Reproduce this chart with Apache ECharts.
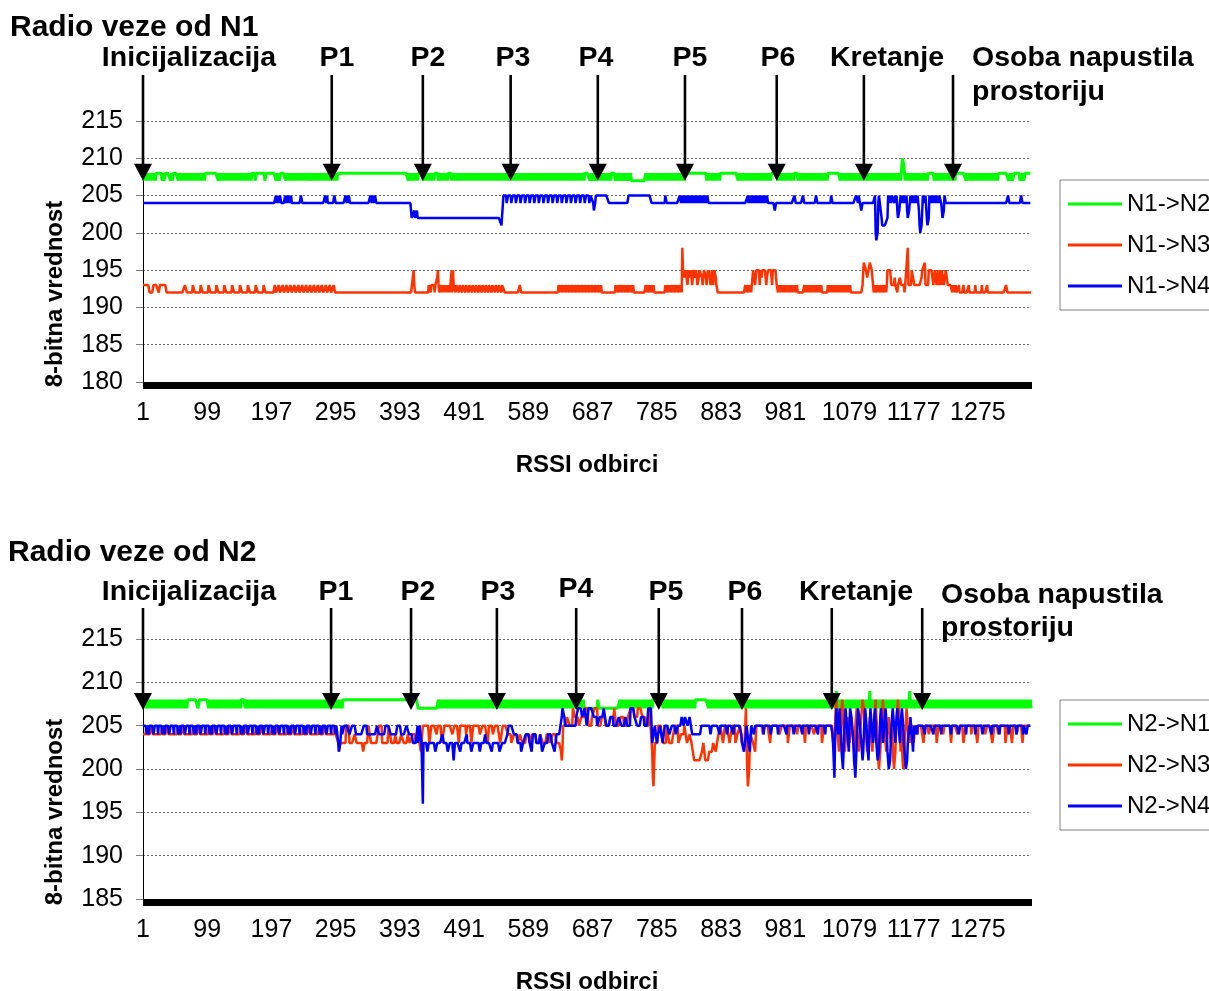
<!DOCTYPE html>
<html><head><meta charset="utf-8">
<script src="https://cdn.jsdelivr.net/npm/echarts@6/dist/echarts.min.js"></script>
<style>html,body{margin:0;padding:0;background:#fff}#c{width:1209px;height:991px}</style>
</head><body><div id="c"></div><script>
// Values are stored run-length encoded: each char c means value 180 + parseInt(c,36)
// (c=192, o=204, p=205, r=207, s=208 ...). "xy*n" repeats "xy" n times.
const N = 1356;
const categories = [];
for (let i = 1; i <= N; i++) categories.push(String(i));

const seriesNamesTop = ['N1->N2', 'N1->N3', 'N1->N4'];
const seriesNamesBottom = ['N2->N1', 'N2->N3', 'N2->N4'];

const n1n2 = "sr*10 s s*7 srrsrrs s*6 srrsrs s*6 sr*21 s s*18 sr*26 s*5 rrs s*12 rr s*15 rsrrsrr s*7 sr*18 s*3 rs*21 s*107 rs*7 r s*8 rs*9 s*5 rs*7 r s*5 rs*102 s*7 rrsrrsrrsrrsr sr*10 s*6 rrsrrs*4 r r*21 sr*30 s s*32 rs*10 r s*27 rs*25 r s*10 rs*13 s*5 rs*23 s*18 rs*46 r stuuts rs*18 s*8 rs*17 s*15 rs*25 s*15 rrsrrsrr s*9 rrsrrsrrs s*9";
const n1n3 = "d*10 c*6 d*8 cc d*10 c*28 dddccccccccc*11 ccccc ddcccc*15 ddc c*119 fd c*20 cdddcdddddcdddef dcc cdcdcdcdcdcdcdcd dfcfd ddcdd*15 ddc c*22 dd c*57 ddcdcddcdc*6 ddcdcdc c*20 dcdcc*6 c*15 cdcdc cdcdc cdcdc c*15 cdcdc cdcdc ccdcd ccdcd cccdc dc i ffeef ffdff eeffd efffe ffdde ffffe defff eddfe ffdde fdeff eddcc c*39 cdcdddcdcdcd dfffd effff fdffe fffff fdeef fffff dffff ffdd cd*15 c*10 dc*14 c*8 dc*18 c*17 dfgg gffe effg ggfe dccd cc cdcdc cdcdc cdcdc dfffffed ddddeddd cdddeedd dddcdddd i ddddd ffffd ddddd ddddd effff gdddd dffff fffdd fffdd ffdff dfffd ddfff ddddd ddcdc dcdcc ccdcc ccccd ccccc ccdcc ccccc ccdcc ccccc ccdcc ccccc dc c*27 dd c*37";
const n1n4 = "o*203 popopoppo o*5 popppoppop o*14 pp o*35 ppop o*10 pp o*15 ppopoppo o*30 ppoppoopp o*53 nm mmmnmmmnmmmmmm m*122 lll pppppoo*19 pppp onno p*20 o*30 pp p*33 o*21 pp o*20 ppo*15 o*10 o*49 pop*10 p o*10 nn o*28 pp o*11 pp o*18 pp o*21 pp o*36 pppoppppnnoooo o*15 pkjjko pppp mllllllllm poppop pppoppop nmmn oppopp oppop nmmno p oppoppoppopp nlkkln pppopp mllm poppoppoppopppopppo nmmn ppo o*94 pp o*18 pp o*14";

const n2n1 = "sr*34 s s*15 rr s*14 rsrsrssrsr*5 s*6 rs*75 s*114 r*31 sr*97 s sr*14 r*20 ss r*32 sr*25 s s*15 rs*24 r s*20 rs*97 r t sr*25 t rs*30 t rs*92 r";
const n2n3 = "ooooopoooooooopooooooooo*12 ooooopooo onmmnnnn n*5 p*5 n*8 o*3 n*10 mm n*6 p*4 n*12 p*5 n*10 p*4 n*6 o*2 n*2 n*5 o*4 n*6 o*3 n*4 o*5 n*4 o*4 mmm p*10 n*3 p*8 o*2 p*6 n*4 p*12 o*3 p*7 n*2 p*9 o*2 p*6 n*3 p*10 o*4 p*8 n*2 p*6 o*3 p*8 n*4 p*8 o*5 n*4 o*6 n*3 o*4 n*6 o*5 n*4 o*7 n*5 o*4 n*6 o*5 n*4 o*6 n*7 mlm p*6 q*4 p*5 r*3 q*6 p*4 q*5 r*6 p*5 q*4 r*5 p*6 q*6 p*8 q*5 r*3 p*7 q*5 p*6 q*4 r*6 q*5 r*7 q*5 p*6 r*4 mjiin n*4 p*5 o*3 n*5 p*4 n*6 o*3 p*5 n*4 o*5 p*4 n*4 o*3 n*2 m*2 l*12 m*2 n*3 l*6 m*6 n*4 m*2 n*2 o*3 p*4 n*3 p*5 o*2 n*4 p*5 n*3 o*4 p*3 n*5 prrkiikno o*3 n*3 m*2 p*10 o*3 p*8 n*2 p*12 o*4 p*9 n*3 p*11 o*2 p*10 n*2 p*12 o*3 p*9 n*3 p*11 pponn oprs qonm mopr srpn mmop qpon opqp onmn pqro nmno pqrs srqp onmn opqp onmo pqrs qpnl kkmo qrss qonm nopq pono pnlk kmoq rssq ompn lkkm oprq pono pnop onop oopo p*8 n*2 p*6 o*3 p*9 n*3 p*7 o*2 p*10 n*2 p*8 o*3 p*6 n*3 p*9 o*2 p*7 n*2 p*10 o*3 p*8 n*3 p*6 o*2 p*9 n*3 p*7 n*2 p*5 o*3 p*6 n*2 p*12";
const n2n4 = "ppppppoppoppppppoopppppo*12 ppppppopp pnmmnopo o*2 p*8 o*4 p*6 o*12 p*5 o*15 p*3 o*10 p*8 o*10 p*6 o*8 p*4 o*6 n*7 pnnpppnn g n*6 mm n*10 m*3 n*8 oo n*6 mmm n*6 ll n*8 mm n*8 o n*6 mmm n*10 mm n*6 oo n*8 mm n*10 m*4 n*8 o oppppppppoo o*4 n*5 m*3 n*4 o*6 n*3 m*2 o*5 n*6 o*3 m*4 n*5 o*6 n*4 m*3 o*7 oqrrrqpp p*15 q*3 r*6 q*4 r*3 p*3 r*8 q*5 p*4 q*6 r*4 p*6 q*5 p*8 q*4 p*6 q*3 p*5 r*6 q*4 p*6 q*5 p*6 r*5 p n*4 p*3 n*2 o*3 p*4 n*3 p*2 p*5 o*4 p*6 o*3 p*6 q*3 p*2 q*4 p*3 q*4 o*14 p*14 oo p*12 o p*10 oo p*8 o p*11 o n*3 m*3 o p*3 n*2 m*2 p*4 o*2 p*5 p*8 o p*10 oo p*9 o p*12 o p*10 oo p*11 o p*9 oo p*12 o p*10 o p*8 pponlj nprqp oqrpo mlkm oqrqp onm prrq pon lkj lnpr rqpo nmlm oqrr pnml nprq pono qrpn mllm oqrq pnop qrqo mlkk lnpq rqpo npqr qpon pqrq pnm lkkl nop oqpo nmop popop p*10 o p*12 oo p*10 o p*14 o p*11 oo p*9 o p*13 o p*10 oo p*12 o p*11 o p*13 oo p*10 o p*9 o p*4 oo p*6";

// annotation arrows: category index of each arrow and its label
const annTopLabels = ['Inicijalizacija', 'P1', 'P2', 'P3', 'P4', 'P5', 'P6', 'Kretanje'];
const annTopIdx = [0, 288, 427, 561, 694, 827, 967, 1100, 1236];
const annBotLabels = ['Inicijalizacija', 'P1', 'P2', 'P3', 'P4', 'P5', 'P6', 'Kretanje'];
const annBotIdx = [0, 287, 409, 540, 661, 787, 914, 1051, 1189];
const leaveLabel = ['Osoba napustila', 'prostoriju'];

function decode(str) {
  const out = [];
  str.trim().split(/\s+/).forEach(tok => {
    const parts = tok.split('*');
    const n = parts[1] ? parseInt(parts[1], 10) : 1;
    for (let k = 0; k < n; k++) for (const c of parts[0]) out.push(180 + parseInt(c, 36));
  });
  return out;
}

const FONT = '"Liberation Sans", Arial, sans-serif';
const GREEN = '#00ff00', RED = '#ff3300', BLUE = '#0000ff';

function xAxis(gi) {
  return {
    type: 'category', gridIndex: gi, data: categories, boundaryGap: false,
    axisLine: { show: true, lineStyle: { color: '#000', width: 1 } },
    axisTick: { show: true, interval: 0, length: 7, lineStyle: { color: '#000', width: 1 } },
    axisLabel: { interval: 97, fontSize: 25, color: '#000', margin: 19, fontFamily: FONT },
    splitLine: { show: false },
    name: 'RSSI odbirci', nameLocation: 'middle', nameGap: 71,
    nameTextStyle: { fontWeight: 'bold', fontSize: 24, color: '#000', fontFamily: FONT }
  };
}
function yAxis(gi, min) {
  return {
    type: 'value', gridIndex: gi, min: min, max: 215, interval: 5,
    axisLine: { show: true, lineStyle: { color: '#000', width: 1 } },
    axisTick: { show: true, length: 7, lineStyle: { color: '#808080' } },
    axisLabel: { fontSize: 25, color: '#000', margin: 20, fontFamily: FONT },
    splitLine: { show: true, lineStyle: { color: '#666', width: 1, type: [2, 2] } }
  };
}
function line(name, data, color, width, gi) {
  return {
    type: 'line', name: name, data: decode(data), xAxisIndex: gi, yAxisIndex: gi,
    symbol: 'none', showSymbol: false, color: color,
    lineStyle: { color: color, width: width }, animation: false, silent: true
  };
}
function legend(names, top) {
  return {
    data: names.map(n => ({ name: n, icon: 'rect' })),
    orient: 'vertical', left: 1060, top: top,
    itemWidth: 54, itemHeight: 3, itemGap: 17, padding: [12, 40, 12, 8],
    borderColor: '#808080', borderWidth: 1, backgroundColor: '#fff',
    textStyle: { fontSize: 24, color: '#000', fontFamily: FONT, lineHeight: 22 },
    selectedMode: false
  };
}

const chart = echarts.init(document.getElementById('c'), null, { renderer: 'canvas' });
chart.setOption({
  animation: false,
  backgroundColor: '#fff',
  textStyle: { fontFamily: FONT },
  grid: [
    { left: 143, right: 178, top: 121, height: 261, outerBoundsMode: 'none', containLabel: false },
    { left: 143, right: 178, top: 639, height: 260, outerBoundsMode: 'none', containLabel: false }
  ],
  xAxis: [xAxis(0), xAxis(1)],
  yAxis: [yAxis(0, 180), yAxis(1, 185)],
  legend: [legend(seriesNamesTop, 180), legend(seriesNamesBottom, 700)],
  series: [
    line(seriesNamesTop[0], n1n2, GREEN, 3, 0),
    line(seriesNamesTop[1], n1n3, RED, 2.5, 0),
    line(seriesNamesTop[2], n1n4, BLUE, 2.5, 0),
    line(seriesNamesBottom[0], n2n1, GREEN, 3, 1),
    line(seriesNamesBottom[1], n2n3, RED, 2.5, 1),
    line(seriesNamesBottom[2], n2n4, BLUE, 2.5, 1)
  ]
});

// annotations
const g = [];
function txt(text, x, y, size, align) {
  g.push({ type: 'text', x: x, y: y, silent: true, z: 100,
    style: { text: text, font: 'bold ' + size + 'px ' + FONT, fill: '#000', align: align || 'center', verticalAlign: 'middle' } });
}
function arrow(gi, idx, yTopPx, tipVal) {
  const x = chart.convertToPixel({ xAxisIndex: gi }, idx);
  const yTip = chart.convertToPixel({ yAxisIndex: gi }, tipVal);
  g.push({ type: 'line', silent: true, z: 100, shape: { x1: x, y1: yTopPx, x2: x, y2: yTip - 14 },
    style: { stroke: '#000', lineWidth: 2.6 } });
  g.push({ type: 'polygon', silent: true, z: 100, shape: { points: [[x - 9, yTip - 17], [x + 9, yTip - 17], [x, yTip]] },
    style: { fill: '#000' } });
}
txt('Radio veze od N1', 10, 28, 30, 'left');
txt('Radio veze od N2', 8, 553, 30, 'left');
const topLabelX = [189, 337, 428, 513, 596, 690, 778, 887];
const botLabelX = [189, 336, 418, 498, 576, 666, 745, 856];
const botLabelY = [592, 592, 592, 592, 589, 592, 592, 592];
annTopLabels.forEach((t, i) => txt(t, topLabelX[i], 58, 28.5));
annBotLabels.forEach((t, i) => txt(t, botLabelX[i], botLabelY[i], 28.5));
txt(leaveLabel[0], 972, 58, 28.5, 'left');
txt(leaveLabel[1], 972, 92, 28.5, 'left');
txt(leaveLabel[0], 941, 595, 28.5, 'left');
txt(leaveLabel[1], 941, 628, 28.5, 'left');
annTopIdx.forEach(idx => arrow(0, idx, 75, 207.0));
annBotIdx.forEach(idx => arrow(1, idx, 608, 206.8));
// rotated y-axis names
[[55, 294], [55, 812]].forEach(p => {
  g.push({ type: 'text', x: p[0], y: p[1], rotation: Math.PI / 2, silent: true, z: 100,
    style: { text: '8-bitna vrednost', font: 'bold 24px ' + FONT, fill: '#000', align: 'center', verticalAlign: 'middle' } });
});
chart.setOption({ graphic: g });
</script></body></html>
